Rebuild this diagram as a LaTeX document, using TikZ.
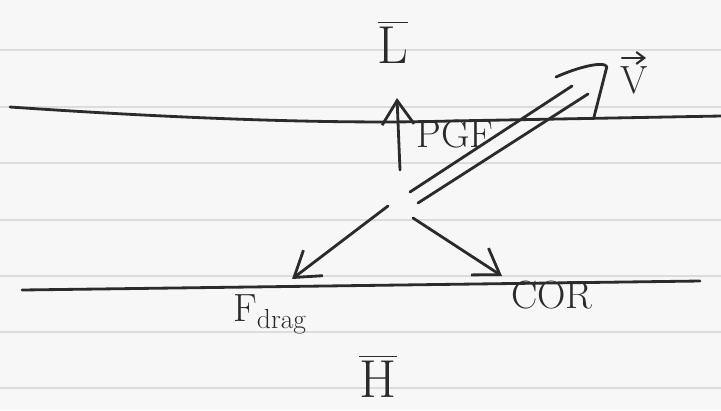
\documentclass[tikz,border=0pt]{standalone}
\usepackage{amsmath}
\usepackage{xcolor}
\usepackage{tikz}
\usetikzlibrary{arrows.meta,positioning}
\definecolor{pencil}{HTML}{2B2B2B}
\definecolor{ruling}{HTML}{DCDCDC}
\tikzset{
  pen/.style={draw=pencil,line width=2pt,line cap=round,line join=round},
  force/.style={pen,-{Straight Barb[length=6mm,width=8mm]}},
  lbl/.style={text=pencil,inner sep=0pt,font=\fontsize{28}{32}\selectfont},
  biglbl/.style={lbl,font=\fontsize{38}{42}\selectfont}
}
\begin{document}
\begin{tikzpicture}[x=0.025cm,y=-0.025cm]
\fill[black!3] (0,0) rectangle (721,410);
\useasboundingbox (0,0) rectangle (721,410);
\foreach \y in {50,107,163,220,276,332,388}
  \draw[ruling,line width=0.8pt] (0,\y) -- (721,\y);
\draw[pen] (10,107) .. controls (200,120) and (350,124) .. (450,121) -- (721,116);
\draw[pen] (22,290) .. controls (250,287) .. (700,281);
\coordinate (pgfs) at (400,170);
\coordinate (pgft) at (397,98);
\coordinate (drags) at (388,206);
\coordinate (dragt) at (292,279);
\coordinate (cors) at (413,218);
\coordinate (cort) at (502,276);
\coordinate (vas) at (410,192);
\coordinate (vat) at (572,86);
\coordinate (vbs) at (418,203);
\coordinate (vbt) at (588,94);
\coordinate (vwa) at (556,77);
\coordinate (vtip) at (606,70);
\coordinate (vwb) at (594,117);
\draw[force] (pgfs) -- (pgft);
\draw[force] (drags) -- (dragt);
\draw[force] (cors) -- (cort);
\draw[pen] (vas) -- (vat);
\draw[pen] (vbs) -- (vbt);
\draw[pen] (vwa) .. controls (585,64) and (612,60) .. (vtip) -- (vwb);
\node[biglbl] (low) at (393,42) {$\overline{\text{L}}$};
\node[biglbl] (high) at (378,376) {$\overline{\text{H}}$};
\node[lbl] (pgflbl) at (455,134) {PGF};
\node[lbl] (corlbl) at (552,295) {COR};
\node[lbl] (draglbl) at (270,314) {$\text{F}_{\text{drag}}$};
\node[lbl] (vlbl) at (634,80) {V};
\draw[pen,line width=1.5pt,-{Straight Barb[length=2mm,width=3mm]}]
  ([xshift=-3mm,yshift=2mm]vlbl.north) -- ([xshift=3mm,yshift=2mm]vlbl.north);
\end{tikzpicture}
\end{document}
